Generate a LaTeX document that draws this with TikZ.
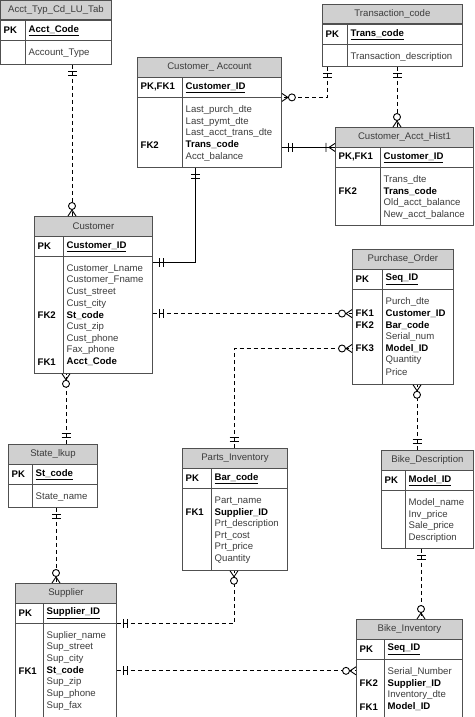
\documentclass[tikz,border=0pt]{standalone}
\usepackage{fontspec}
\setmainfont{Liberation Sans}
\usetikzlibrary{decorations.markings}

\definecolor{hdrgray}{RGB}{208,208,208}
\definecolor{linegray}{RGB}{80,80,80}
\definecolor{txtgray}{RGB}{60,60,60}

\newcommand{\erfont}{\fontsize{9.6}{11.65}\selectfont}
\newcommand{\fkbold}[1]{\textcolor{black}{\textbf{#1}}}

\tikzset{
    erhead/.style={draw=linegray, fill=hdrgray, line width=0.9pt, minimum height=19.5,
        inner sep=0, text=txtgray, font=\erfont},
    erbody/.style={draw=linegray, line width=0.9pt, inner sep=0},
    erline/.style={draw=linegray, line width=0.9pt},
    erkey/.style={anchor=west, inner xsep=3.5, inner ysep=0, font=\erfont\bfseries},
    erfield/.style={anchor=west, inner xsep=3.5, inner ysep=0, text=txtgray, font=\erfont},
    rel/.style={draw=black, line width=0.9pt},
    dashrel/.style={rel, dash pattern=on 4pt off 3pt},
    one start/.style={postaction={decorate, decoration={markings,
        mark=at position 7pt with {\draw[solid] (0,-4.5) -- (0,4.5);},
        mark=at position 11pt with {\draw[solid] (0,-4.5) -- (0,4.5);}}}},
    one end/.style={postaction={decorate, decoration={markings,
        mark=at position -11pt with {\draw[solid] (0,-4.5) -- (0,4.5);},
        mark=at position -7pt with {\draw[solid] (0,-4.5) -- (0,4.5);}}}},
    zmany end/.style={postaction={decorate, decoration={markings,
        mark=at position 1 with {\draw[solid] (-6,0) -- (0,4) (-6,0) -- (0,-4);
            \draw[solid, fill=white] (-10,0) circle (3.5);}}}},
    omany end/.style={postaction={decorate, decoration={markings,
        mark=at position 1 with {\draw[solid] (-6,0) -- (0,4) (-6,0) -- (0,-4)
            (-9,-4.5) -- (-9,4.5);}}}}
}

% table frame: id, left, top, width, key column, height, title, pk label, pk field
\newcommand{\erbox}[9]{%
    \node[erhead, minimum width=#4, anchor=north west] (#1) at (#2,#3) {#7};
    \node[erbody, minimum width=#4, minimum height=#6-19.5, anchor=north west] (#1-b) at (#1.south west) {};
    \coordinate (#1-pkw) at ([yshift=-20]#1.south west);
    \coordinate (#1-pke) at ([yshift=-20]#1.south east);
    \coordinate (#1-f) at ([xshift=#5, yshift=-20]#1.south west);
    \draw[erline] (#1-pkw) -- (#1-pke);
    \draw[erline] ([xshift=#5]#1-b.north west) -- ([xshift=#5]#1-b.south west);
    \node[erkey] at ([yshift=-10]#1.south west) {#8};
    \node[erkey] at ([xshift=#5, yshift=-10]#1.south west) {\underline{#9}};
}
% field rows: id, list
\newcommand{\erfields}[2]{%
    \foreach \f [count=\i] in {#2}
        \node[erfield] (#1-\i) at ([yshift={-12.5-(\i-1)*11.65}]#1-f) {\f};
}

\begin{document}
\begin{tikzpicture}[x=1pt, y=-1pt]
    \fill[white] (0,0) rectangle (474,717);
    \useasboundingbox (0,0) rectangle (474,717);

    % tables
    \erbox{acct}{0}{0}{111}{25}{63}{Acct\_Typ\_Cd\_LU\_Tab}{PK}{Acct\_Code}
    \erfields{acct}{Account\_Type}

    \erbox{tcode}{322}{4}{140}{25}{61}{Transaction\_code}{PK}{Trans\_code}
    \erfields{tcode}{Transaction\_description}

    \erbox{cacct}{137}{57}{144}{45}{109}{Customer\_ Account}{PK,FK1}{Customer\_ID}
    \erfields{cacct}{Last\_purch\_dte, Last\_pymt\_dte, Last\_acct\_trans\_dte, \fkbold{Trans\_code}, Acct\_balance}
    \node[erkey] at (cacct-4 -| cacct.west) {FK2};

    \erbox{hist}{335}{127}{138}{45}{97}{Customer\_Acct\_Hist1}{PK,FK1}{Customer\_ID}
    \erfields{hist}{Trans\_dte, \fkbold{Trans\_code}, Old\_acct\_balance, New\_acct\_balance}
    \node[erkey] at (hist-2 -| hist.west) {FK2};

    \erbox{cust}{34}{216}{118}{29}{156}{Customer}{PK}{Customer\_ID}
    \erfields{cust}{Customer\_Lname, Customer\_Fname, Cust\_street, Cust\_city, \fkbold{St\_code},
        Cust\_zip, Cust\_phone, Fax\_phone, \fkbold{Acct\_Code}}
    \node[erkey] at (cust-5 -| cust.west) {FK2};
    \node[erkey] at (cust-9 -| cust.west) {FK1};

    \erbox{po}{352}{249}{101}{30}{134}{Purchase\_Order}{PK}{Seq\_ID}
    \erfields{po}{Purch\_dte, \fkbold{Customer\_ID}, \fkbold{Bar\_code}, Serial\_num, \fkbold{Model\_ID},
        Quantity, Price}
    \node[erkey] at (po-2 -| po.west) {FK1};
    \node[erkey] at (po-3 -| po.west) {FK2};
    \node[erkey] at (po-5 -| po.west) {FK3};

    \erbox{state}{8}{444}{89}{24}{62}{State\_lkup}{PK}{St\_code}
    \erfields{state}{State\_name}

    \erbox{supp}{15}{583}{101}{28}{133}{Supplier}{PK}{Supplier\_ID}
    \erfields{supp}{Suplier\_name, Sup\_street, Sup\_city, \fkbold{St\_code}, Sup\_zip, Sup\_phone, Sup\_fax}
    \node[erkey] at (supp-4 -| supp.west) {FK1};

    \erbox{parts}{182}{448}{105}{29}{121}{Parts\_Inventory}{PK}{Bar\_code}
    \erfields{parts}{Part\_name, \fkbold{Supplier\_ID}, Prt\_description, Prt\_cost, Prt\_price, Quantity}
    \node[erkey] at (parts-2 -| parts.west) {FK1};

    \erbox{bdesc}{381}{450}{92}{24}{97}{Bike\_Description}{PK}{Model\_ID}
    \erfields{bdesc}{Model\_name, Inv\_price, Sale\_price, Description}

    \erbox{binv}{356}{619}{106}{28}{97}{Bike\_Inventory}{PK}{Seq\_ID}
    \erfields{binv}{Serial\_Number, \fkbold{Supplier\_ID}, Inventory\_dte, \fkbold{Model\_ID}}
    \node[erkey] at (binv-2 -| binv.west) {FK2};
    \node[erkey] at (binv-4 -| binv.west) {FK1};

    % relationships
    \coordinate (c1) at ([xshift=38]cust.north west);
    \draw[dashrel, one start, zmany end] (acct-b.south -| c1) -- (c1);

    \coordinate (c2) at ([xshift=5]tcode-b.south west);
    \draw[dashrel, one start, zmany end] (c2) |- (cacct-pke);

    \coordinate (c3) at ([xshift=62]hist.north west);
    \draw[dashrel, one start, zmany end] (tcode-b.south -| c3) -- (c3);

    \draw[rel, one start, omany end] (hist.south west -| cacct-b.east) -- (hist.south west);

    \coordinate (c5) at ([xshift=58]cacct-b.south west);
    \coordinate (c5b) at ([yshift=-6]cust-pke);
    \draw[rel, one start, one end] (c5) |- (c5b);

    \draw[dashrel, one start, zmany end] (po-2 -| cust-b.east) -- (po-2 -| po-b.west);

    \coordinate (c7) at ([xshift=52]parts.north west);
    \draw[dashrel, one start, zmany end] (c7) |- (po-5 -| po-b.west);

    \coordinate (c8) at ([xshift=36]bdesc.north west);
    \draw[dashrel, one start, zmany end] (c8) -- (c8 |- po-b.south);

    \coordinate (c9) at ([xshift=32]cust-b.south west);
    \draw[dashrel, one start, zmany end] (c9 |- state.north) -- (c9);

    \coordinate (c10) at ([xshift=41]supp.north west);
    \draw[dashrel, one start, zmany end] (state-b.south -| c10) -- (c10);

    \coordinate (c11) at ([xshift=52]parts-b.south west);
    \draw[dashrel, one start, zmany end] (supp-pke) -| (c11);

    \draw[dashrel, one start, zmany end] (supp-4 -| supp-b.east) -- (supp-4 -| binv-b.west);

    \coordinate (c13) at ([xshift=65]binv.north west);
    \draw[dashrel, one start, zmany end] (bdesc-b.south -| c13) -- (c13);
\end{tikzpicture}
\end{document}
